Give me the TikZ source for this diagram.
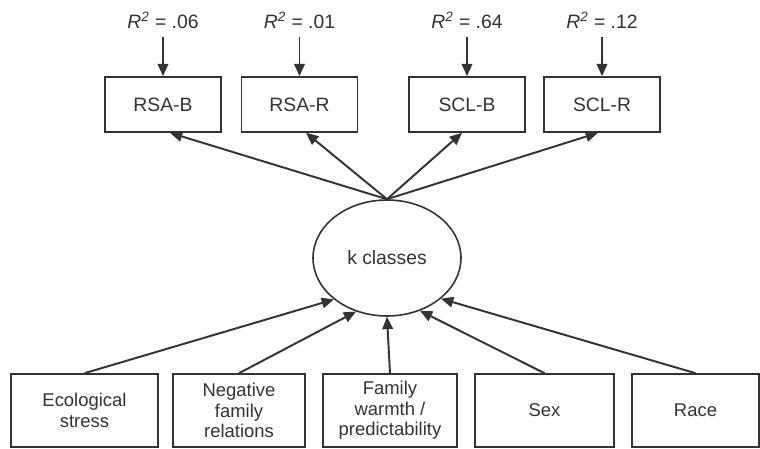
\documentclass[tikz,border=0pt]{standalone}
\usepackage{fontspec}
\setmainfont{Liberation Sans}
\usetikzlibrary{positioning,arrows.meta,shapes.geometric}

\colorlet{ink}{black!80}
\tikzset{
  outbox/.style={draw=ink,line width=.9pt,minimum width=2.32cm,minimum height=1.1cm,
    inner sep=0pt,text=ink,font=\fontsize{11}{13}\selectfont},
  inbox/.style={draw=ink,line width=.9pt,minimum height=1.46cm,inner sep=0pt,align=center,
    text=ink,font=\fontsize{10.5}{11.6}\selectfont},
  rsq/.style={inner sep=0pt,text=ink,font=\fontsize{11}{13}\selectfont},
  path/.style={line width=1.1pt,draw=ink,-{Triangle[length=7pt,width=6pt]}}
}

\begin{document}
\begin{tikzpicture}
      \useasboundingbox (0,0) rectangle (15.2,8.98);
      % indicators
      \node[outbox] (rsab) at (3.26,6.89) {RSA-B};
      \node[outbox] (rsar) at (5.99,6.89) {RSA-R};
      \node[outbox] (sclb) at (9.34,6.89) {SCL-B};
      \node[outbox] (sclr) at (12.04,6.89) {SCL-R};
      \node[rsq,above=.95cm of rsab] (r1) {\textit{R\textsuperscript{2}} = .06};
      \node[rsq,above=.95cm of rsar] (r2) {\textit{R\textsuperscript{2}} = .01};
      \node[rsq,above=.95cm of sclb] (r3) {\textit{R\textsuperscript{2}} = .64};
      \node[rsq,above=.95cm of sclr] (r4) {\textit{R\textsuperscript{2}} = .12};
      \foreach \a/\b in {r1/rsab,r2/rsar,r3/sclb,r4/sclr}
        \draw[path] ([yshift=-4.5pt]\a.south) -- (\b.north);
      % latent class
      \node[ellipse,draw=ink,line width=.9pt,minimum width=2.96cm,minimum height=2.32cm,
        text=ink,font=\fontsize{11}{13}\selectfont] (k) at (7.74,3.82) {k classes};
      \draw[path] (k.north) -- ([xshift=.14cm]rsab.south);
      \draw[path] (k.north) -- ([xshift=.13cm]rsar.south);
      \draw[path] (k.north) -- ([xshift=-.1cm]sclb.south);
      \draw[path] (k.north) -- ([xshift=-.08cm]sclr.south);
      % covariates
      \node[inbox,minimum width=2.94cm] (eco) at (1.69,.77) {Ecological\\stress};
      \node[inbox,minimum width=2.64cm] (neg) at (4.78,.77) {Negative\\family\\relations};
      \node[inbox,minimum width=2.68cm] (fam) at (7.80,.77) {Family\\warmth /\\predictability};
      \node[inbox,minimum width=2.78cm] (sex) at (10.89,.77) {Sex};
      \node[inbox,minimum width=2.54cm] (race) at (13.91,.77) {Race};
      \foreach \s/\t in {eco/218,neg/240,fam/270,sex/302,race/323}
        \draw[path] (\s.north) -- (k.\t);
    \end{tikzpicture}
\end{document}
